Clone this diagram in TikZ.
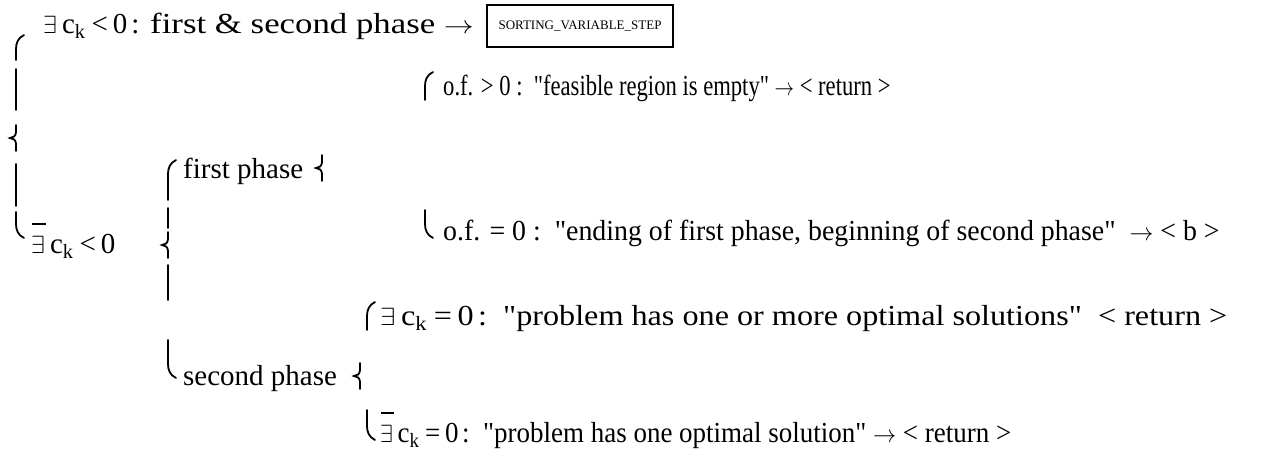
\documentclass[tikz,border=0pt]{standalone}
\usepackage{fontspec}
\usepackage{graphicx}
\setmainfont{Liberation Serif}
\newcommand\Ex{$\exists$}
\newcommand\nEx{\rlap{\hspace{0.5pt}\raisebox{0.98em}{\rule{0.5em}{1.3pt}}}$\exists$}
\newcommand\ck{c\textsubscript{k}}
\newcommand\q{\textquotedbl}
\newcommand\ar{$\rightarrow$}
\newcommand\cond[3]{#1\hspace{5pt}\ck\hspace{6pt}#2\hspace{5pt}0\hspace{4pt}#3}
\begin{document}
\begin{tikzpicture}[x=1pt,y=-1pt,
  txt/.style={anchor=base west,inner sep=0pt,font=\fontsize{29}{32}\selectfont},
  boxed/.style={draw,line width=1.4pt,minimum width=186pt,minimum height=42pt,inner sep=0pt,font=\fontsize{13}{15}\selectfont},
  bpc/.style={line width=1.8pt,line cap=round}]
\useasboundingbox (0,0) rectangle (1269,456);
% brace piece macros
\def\tophook#1#2#3{\draw[bpc] ({#1+8},{#2}) .. controls ({#1+2},{#2+3}) and ({#1},{#2+8}) .. ({#1},{#2+14}) -- ({#1},{#3});}
\def\bothook#1#2#3{\draw[bpc] ({#1},{#2}) -- ({#1},{#3-14}) .. controls ({#1},{#3-8}) and ({#1+2},{#3-3}) .. ({#1+8},{#3});}
\def\seg#1#2#3{\draw[bpc] ({#1},{#2}) -- ({#1},{#3});}
\def\mid#1#2{\draw[bpc] ({#1},{#2-13}) -- ({#1},{#2-6}) .. controls ({#1},{#2-2}) and ({#1-3},{#2}) .. ({#1-6},{#2}) .. controls ({#1-3},{#2}) and ({#1},{#2+2}) .. ({#1},{#2+6}) -- ({#1},{#2+13});}
% texts
\node[txt] (a) at (43,33) {\cond{\Ex}{<}{:}};
\node[txt] (a2) at (150,33) {\scalebox{1.2}[1]{first \& second phase \ar}};
\node[boxed] (box) at (580,26) {SORTING\_VARIABLE\_STEP};
\node[txt] (b) at (443,95) {\scalebox{0.78}[1]{o.f. > 0 :\enspace \q feasible region is empty\q\ \ar\ < return >}};
\node[txt] (c) at (183,178) {first phase};
\node[txt] (d) at (443,240) {\scalebox{0.96}[1]{o.f. = 0 :\enspace \q ending of first phase, beginning of second phase\q\enspace \ar\ < b >}};
\node[txt] (e) at (31,253) {\cond{\nEx}{<}{}};
\node[txt] (f) at (380,325) {\scalebox{1.11}[1]{\cond{\Ex}{=}{:}\enspace \q problem has one or more optimal solutions\q\enspace < return >}};
\node[txt] (g) at (183,385) {second phase};
\node[txt] (h) at (380,442) {\scalebox{0.93}[1]{\cond{\nEx}{=}{:}\enspace \q problem has one optimal solution\q\ \ar\ < return >}};
% outer brace
\tophook{16}{35}{60}
\seg{16}{69}{110}
\mid{16}{138}
\seg{16}{164}{206}
\bothook{16}{212}{238}
% second brace
\tophook{168}{160}{200}
\seg{168}{208}{228}
\mid{168}{245}
\seg{168}{265}{300}
\bothook{168}{340}{378}
% third brace (first phase)
\tophook{425}{72}{100}
\mid{322}{168}
\bothook{425}{210}{238}
% fourth brace (second phase)
\tophook{367}{302}{330}
\mid{360}{376}
\bothook{367}{410}{440}
\end{tikzpicture}
\end{document}
